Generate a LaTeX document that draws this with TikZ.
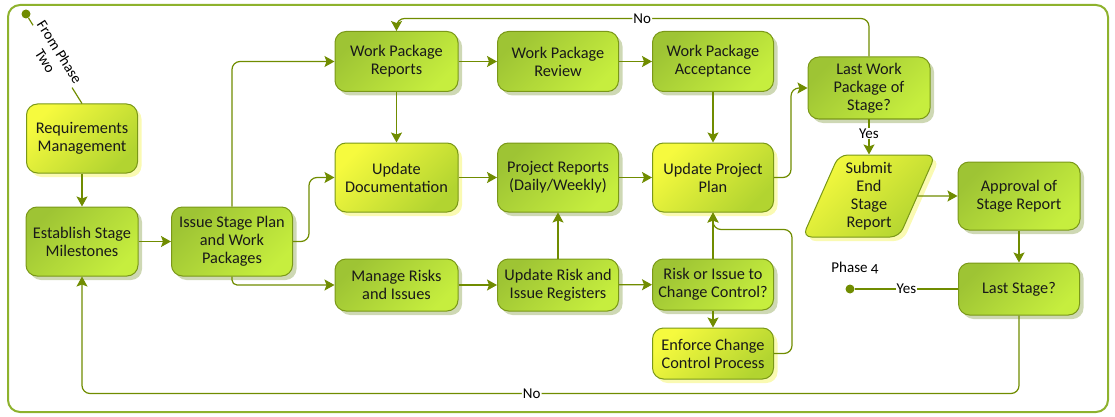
\documentclass[tikz,border=0pt]{standalone}
\usepackage{fontspec}
\setmainfont{Carlito}
\usetikzlibrary{arrows.meta}
\usetikzlibrary{shapes.geometric}
\usetikzlibrary{shadows}

\definecolor{linegreen}{RGB}{112,140,0}
\definecolor{framegreen}{RGB}{142,178,45}
\definecolor{boxedge}{RGB}{122,152,24}
\definecolor{greenA}{RGB}{158,196,52}
\definecolor{greenB}{RGB}{198,238,62}
\definecolor{yellowA}{RGB}{246,250,62}
\definecolor{yellowB}{RGB}{178,212,48}
\definecolor{shadowgreen}{RGB}{206,216,180}
\definecolor{shadowyellow}{RGB}{250,250,178}

\begin{document}
\begin{tikzpicture}[x=1pt, y=-1pt, >={Stealth[length=10pt, width=11pt, inset=2pt]},
font=\fontsize{16.3}{18}\selectfont,
box/.style={draw=boxedge, line width=1pt, rounded corners=11pt, align=center,
  inner sep=2pt, minimum width=121pt, text=black!90},
stage/.style={box, top color=greenA, bottom color=greenB, shading angle=45,
  drop shadow={shadow xshift=4pt, shadow yshift=-4pt, fill=shadowgreen, opacity=1}},
yellowstage/.style={box, top color=yellowA, bottom color=yellowB, shading angle=45,
  drop shadow={shadow xshift=4pt, shadow yshift=-4pt, fill=shadowyellow, opacity=1}},
flow/.style={->, draw=linegreen, line width=1.2pt},
wire/.style={draw=linegreen, line width=1.2pt},
lbl/.style={fill=white, inner sep=1pt, font=\fontsize{15}{17}\selectfont},
dot/.style={circle, fill=linegreen, inner sep=0pt, minimum size=9pt}]

\useasboundingbox (0,0) rectangle (1115,417);

%%%%%% FRAME %%%%%%%%%%

\draw [framegreen, line width=2pt, rounded corners=12pt] (8,5) rectangle (1108,412);

%%%%%% NODES %%%%%%%%%%

\node [dot] (phasetwo) at (26,14) {};
\node [yellowstage, minimum width=111pt, minimum height=69pt] (req) at (82,138.5) {Requirements\\Management};
\node [stage, minimum width=112pt, minimum height=69pt] (est) at (82,241.5) {Establish Stage\\Milestones};
\node [stage, minimum height=69pt] (issue) at (232,241.5) {Issue Stage Plan\\and Work\\Packages};

\node [stage, minimum width=123pt, minimum height=60pt] (wprep) at (396.5,61.5) {Work Package\\Reports};
\node [stage, minimum height=60pt] (wprev) at (558,61.5) {Work Package\\Review};
\node [stage, minimum height=60pt] (wpacc) at (713,61.5) {Work Package\\Acceptance};
\node [stage, minimum width=122pt, minimum height=62pt] (lastwp) at (869,88) {Last Work\\Package of\\Stage?};

\node [yellowstage, minimum width=123pt, minimum height=69pt] (upddoc) at (396.5,177.5) {Update\\Documentation};
\node [stage, minimum height=69pt] (projrep) at (558,177.5) {Project Reports\\(Daily/Weekly)};
\node [yellowstage, minimum height=69pt] (upp) at (713,177.5) {Update Project\\Plan};

\node [stage, minimum width=123pt, minimum height=52pt] (risks) at (396.5,285) {Manage Risks\\and Issues};
\node [stage, minimum height=52pt] (registers) at (558,285) {Update Risk and\\Issue Registers};
\node [stage, minimum height=51pt] (changectl) at (713,284.5) {Risk or Issue to\\Change Control?};
\node [yellowstage, minimum height=51pt] (enforce) at (713,353.5) {Enforce Change\\Control Process};

\node [yellowstage, shape=trapezium, trapezium stretches=true, trapezium left angle=67,
  trapezium right angle=113, minimum width=133pt, minimum height=82pt, rounded corners=9pt]
  (submit) at (869,196) {Submit\\End\\Stage\\Report};
\node [stage, minimum width=122pt, minimum height=68pt] (approval) at (1019,196) {Approval of\\Stage Report};
\node [stage, minimum height=52pt] (laststage) at (1019,289) {Last Stage?};
\node [dot] (phasefour) at (850,289) {};
\node [font=\fontsize{15}{17}\selectfont\addfontfeature{Numbers=OldStyle}] (phaselbl) at (855,268) {Phase 4};

%%%%%% CONNECTORS %%%%%%%%%%

\draw [wire] (phasetwo) -- node[lbl, sloped, pos=.45, align=center] {From Phase\\Two} (req.north);
\draw [flow] (req) -- (est);
\draw [flow] (est) -- (issue);
\draw [flow, rounded corners=8pt] (issue.north) |- (wprep);
\draw [flow, rounded corners=8pt] (issue.east) -- ++(16,0) |- (upddoc);
\draw [flow, rounded corners=5pt] (issue.south) |- (risks);

\foreach \a/\b in {wprep/wprev, wprev/wpacc, upddoc/projrep, projrep/upp, risks/registers, registers/changectl,
  wprep/upddoc, wpacc/upp, registers/projrep, changectl/upp, changectl/enforce, approval/laststage}
  {\draw [flow] (\a) -- (\b);}

\draw [flow, rounded corners=8pt] (upp.east) -- ++(17,0) |- (lastwp);
\draw [flow, rounded corners=8pt] (lastwp.north) -- ++(0,-38) -| node[lbl, pos=.24] {No} (wprep.north);
\draw [flow] (lastwp) -- node[lbl, pos=.4] {Yes} (submit);
\draw [flow] (submit) -- (approval);
\draw [flow, rounded corners=8pt] (enforce.east) -- ++(18,0) -- ++(0,-124) -| (upp.south);
\draw [wire] (laststage) -- node[lbl] {Yes} (phasefour);
\draw [flow, rounded corners=8pt] (laststage.south) -- ++(0,78) -| node[lbl, pos=.26] {No} (est.south);

\end{tikzpicture}
\end{document}
